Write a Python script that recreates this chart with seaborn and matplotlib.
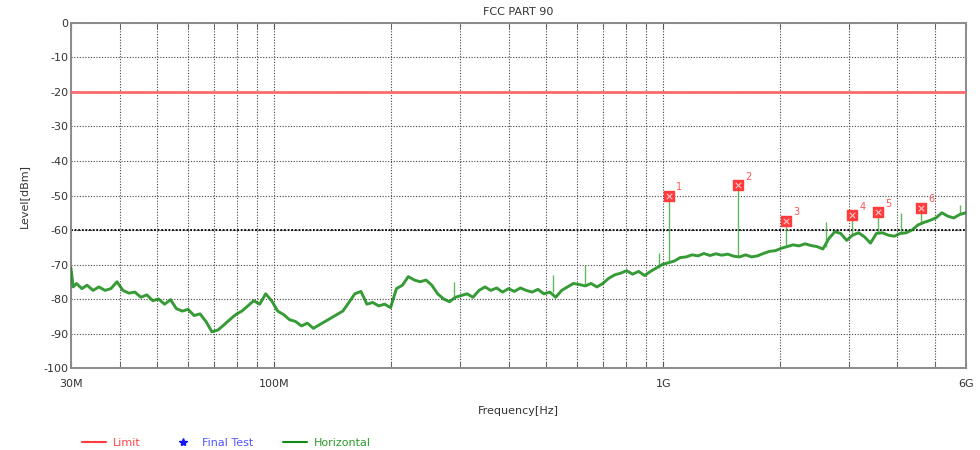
import numpy as np
import pandas as pd
import seaborn as sns
import matplotlib.pyplot as plt
from matplotlib.lines import Line2D
from matplotlib.ticker import FixedLocator, NullFormatter

# Horizontal trace (MHz, dBm)
freq_mhz = [30, 30.4, 31, 32, 33, 34.2, 35.4, 36.7, 38, 39.4, 40.8, 42.3, 43.8, 45.4, 47, 48.7,
            50.4, 52.2, 54.1, 56, 58, 60, 62.2, 64.4, 66.7, 69.1, 71.6, 74.2, 76.8, 79.6,
            82.5, 85.5, 88.5, 91.7, 95, 98.4, 102, 105.6, 109.4, 113.3, 117.4, 121.6, 126,
            130.5, 135.2, 140, 145, 150, 155.5, 161, 167, 173, 179, 185.5, 192, 199, 206,
            213.5, 221, 229, 237, 245.5, 254, 263, 272.5, 282, 292, 302.5, 313, 324, 336,
            348, 360, 373, 386, 400, 414, 429, 444, 460, 476, 493, 511, 529, 548, 567, 587,
            608, 630, 652, 675, 699, 724, 750, 777, 805, 834, 864, 895, 927, 960, 994, 1030,
            1067, 1105, 1145, 1186, 1228, 1272, 1318, 1365, 1414, 1465, 1517, 1571, 1628,
            1686, 1746, 1809, 1874, 1941, 2010, 2082, 2157, 2234, 2314, 2397, 2483, 2572,
            2664, 2760, 2858, 2961, 3067, 3177, 3291, 3409, 3531, 3658, 3789, 3925, 4066,
            4211, 4362, 4519, 4681, 4849, 5022, 5203, 5389, 5582, 5783, 6000]
level_dbm = [-71, -76.5, -75.5, -77, -76, -77.5, -76.5, -77.5, -77, -75, -77.5, -78.3, -78,
             -79.5, -78.8, -80.5, -80, -81.5, -80.2, -82.8, -83.5, -83, -84.8, -84.3, -86.5,
             -89.5, -89, -87.5, -86, -84.5, -83.5, -82, -80.5, -81.5, -78.5, -80.5, -83.5,
             -84.5, -86, -86.5, -87.8, -87, -88.5, -87.5, -86.5, -85.5, -84.5, -83.5, -81,
             -78.5, -77.8, -81.5, -81, -82, -81.5, -82.5, -77, -76, -73.5, -74.5, -75, -74.5,
             -76, -78.5, -80, -80.8, -79.5, -79, -78.5, -79.5, -77.5, -76.5, -77.5, -76.8,
             -78, -77, -77.8, -76.8, -77.5, -78, -77.2, -78.5, -78, -79.5, -77.5, -76.5,
             -75.5, -75.8, -76.2, -75.5, -76.5, -75.5, -74, -73, -72.5, -71.8, -72.8, -72,
             -73.2, -72, -71, -70, -69.5, -69, -68, -67.8, -67.2, -67.5, -66.8, -67.4, -66.9,
             -67.3, -67, -67.6, -67.8, -67.2, -67.8, -67.5, -66.8, -66.2, -66, -65.3, -64.8,
             -64.3, -64.6, -64, -64.5, -64.8, -65.5, -62.5, -60.5, -61, -63, -61.5, -60.8,
             -62, -63.8, -61, -60.8, -61.5, -61.8, -61, -60.8, -60, -58.5, -57.8, -57.2,
             -56.5, -55, -56, -56.5, -55.5, -55]

# narrow spikes on the trace
spike_mhz = [290, 520, 630, 975, 1034, 1555, 2070, 2620, 3060, 3560, 4080, 4600, 5800]
spike_base = [-79.5, -78, -76, -71, -69.5, -67.5, -64.8, -65, -61.5, -61, -61, -58, -55.5]
spike_top = [-75, -73, -70, -66.8, -50, -47, -57.4, -57.8, -55.7, -54.8, -55, -53.5, -52.8]

# final test markers
final_mhz = [1034, 1555, 2070, 3060, 3560, 4600]
final_dbm = [-50, -47, -57.4, -55.7, -54.8, -53.5]
final_ids = ['1', '2', '3', '4', '5', '6']

limit_dbm = -20
ref_dbm = -60

grid_mhz = [40, 50, 60, 70, 80, 90, 100, 200, 300, 400, 500, 600, 700, 800, 900,
            1000, 2000, 3000, 4000, 5000]
label_mhz = [30, 100, 1000, 6000]
label_txt = ['30M', '100M', '1G', '6G']

sns.set_style('white')
plt.rcParams['font.family'] = ['DejaVu Sans']
plt.rcParams['axes.unicode_minus'] = False

fig = plt.figure(figsize=(9.8, 4.5), dpi=100)
ax = fig.add_axes([0.0724, 0.1822, 0.9133, 0.7667])

green = '#138a13'
df = pd.DataFrame({'f': np.array(freq_mhz) * 1e6, 'lvl': level_dbm})
sns.lineplot(data=df, x='f', y='lvl', ax=ax, color=green, lw=2.1, alpha=0.85,
             sort=False, estimator=None, zorder=3)
ax.vlines(np.array(spike_mhz) * 1e6, spike_base, spike_top, color='#3aa63a', lw=1.0,
          alpha=0.8, zorder=3)

ax.axhline(limit_dbm, color='#ff6a6a', lw=2.0, zorder=4)
ax.axhline(ref_dbm, color='black', lw=1.3, ls=(0, (1, 1)), zorder=2)

fx = np.array(final_mhz) * 1e6
ax.scatter(fx, final_dbm, marker='s', s=44, color='#ff3b3b', zorder=5)
ax.scatter(fx, final_dbm, marker='x', s=16, color='#ffc8c8', lw=0.8, zorder=6)
for x, y, t in zip(fx, final_dbm, final_ids):
    ax.annotate(t, (x, y), xytext=(5, 4), textcoords='offset points',
                color='#ff5555', fontsize=7)

ax.set_xscale('log')
ax.set_xlim(30e6, 6000e6)
ax.set_ylim(-100, 0)
ax.set_yticks(range(-100, 1, 10))
ax.xaxis.set_major_locator(FixedLocator([m * 1e6 for m in label_mhz]))
ax.set_xticklabels(label_txt)
ax.xaxis.set_minor_locator(FixedLocator([m * 1e6 for m in grid_mhz]))
ax.xaxis.set_minor_formatter(NullFormatter())

ax.grid(True, which='both', axis='x', color='#444444', lw=0.8, ls=(0, (1, 1.5)))
ax.grid(True, which='major', axis='y', color='#444444', lw=0.8, ls=(0, (1, 1.5)))
ax.set_axisbelow(True)

ax.tick_params(axis='x', which='both', direction='in', top=True, bottom=True,
               length=4, color='#555555', labelsize=8, labelcolor='#333333', pad=8)
ax.tick_params(axis='y', length=0, labelsize=8, labelcolor='#333333', pad=2)
for s in ax.spines.values():
    s.set_color('#8a8a8a')
    s.set_linewidth(1.4)

ax.set_title('FCC PART 90', fontsize=8, color='#333333', pad=6)
ax.set_xlabel('Frequency[Hz]', fontsize=8, color='#333333', labelpad=12)
ax.set_ylabel('Level[dBm]', fontsize=8, color='#333333', labelpad=10)

handles = [Line2D([], [], color='#ff3b3b', lw=1.5),
           Line2D([], [], color='#1414ff', marker='*', ls='', ms=6),
           Line2D([], [], color=green, lw=1.5)]
leg = fig.legend(handles, ['Limit', 'Final Test', 'Horizontal'], loc='lower left',
                 bbox_to_anchor=(0.073, -0.018), ncol=3, frameon=False, fontsize=8,
                 handlelength=2.2, columnspacing=2.7, handletextpad=0.6)
for txt, c in zip(leg.get_texts(), ['#ff4444', '#5555ff', '#2e9a2e']):
    txt.set_color(c)

fig.savefig('out.png', dpi=100)
